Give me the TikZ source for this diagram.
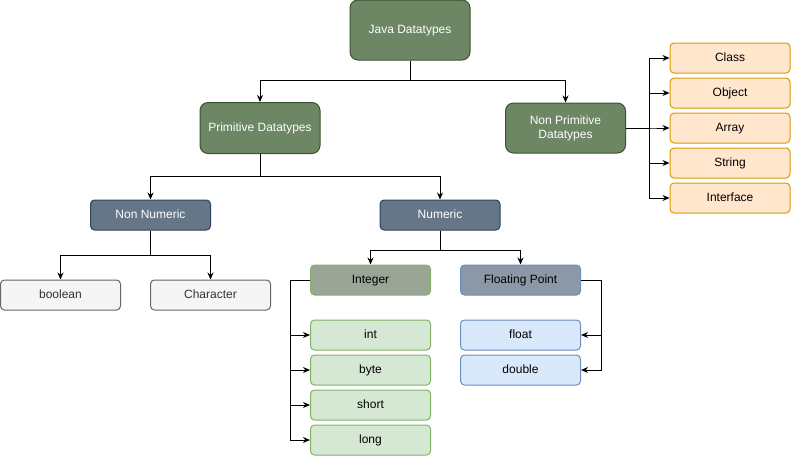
\documentclass[tikz,border=0pt]{standalone}
\usepackage{fontspec}
\setmainfont{Liberation Sans}
\usetikzlibrary{arrows.meta}

\definecolor{darkgreenfill}{HTML}{6D8764}
\definecolor{darkgreenline}{HTML}{3A5431}
\definecolor{slatefill}{HTML}{647687}
\definecolor{slateline}{HTML}{314354}
\definecolor{orangefill}{HTML}{FFE6CC}
\definecolor{orangeline}{HTML}{D79B00}
\definecolor{greyfill}{HTML}{F5F5F5}
\definecolor{greyline}{HTML}{666666}
\definecolor{greytext}{HTML}{333333}
\definecolor{lightgreenfill}{HTML}{D5E8D4}
\definecolor{lightgreenline}{HTML}{82B366}
\definecolor{intfill}{HTML}{9AA596}
\definecolor{lightbluefill}{HTML}{DAE8FC}
\definecolor{lightblueline}{HTML}{6C8EBF}
\definecolor{fpfill}{HTML}{8C98A8}

\tikzset{
  box/.style={draw, line width=1pt, rounded corners=4pt, align=center,
    minimum width=120pt, minimum height=30pt, inner sep=0pt,
    text height=9pt, text depth=3pt,
    font=\fontsize{12}{14}\selectfont},
  bigbox/.style={box, rounded corners=8pt},
  headbox/.style={bigbox, fill=darkgreenfill, draw=darkgreenline, text=white},
  slatebox/.style={box, fill=slatefill, draw=slateline, text=white},
  refbox/.style={box, fill=orangefill, draw=orangeline, text=black},
  plainbox/.style={box, fill=greyfill, draw=greyline, text=greytext},
  intbox/.style={box, fill=lightgreenfill, draw=lightgreenline, text=black},
  fltbox/.style={box, fill=lightbluefill, draw=lightblueline, text=black},
  link/.style={draw=black, line width=1pt, -{Stealth[length=7pt,width=6pt]}},
}

\begin{document}
\begin{tikzpicture}[x=1pt, y=-1pt]
  \useasboundingbox (0,0) rectangle (791,456);

  % top level
  \node[headbox, minimum height=60pt] (java) at (410,30) {Java Datatypes};
  \node[headbox, minimum height=51pt] (prim) at (260,128) {Primitive Datatypes};
  \node[headbox, minimum height=50pt, text height=, text depth=] (nonprim) at (565.5,128) {Non Primitive\\Datatypes};

  % non primitive kinds
  \node[refbox] (class) at (730,58) {Class};
  \node[refbox] (object) at (730,93) {Object};
  \node[refbox] (array) at (730,128) {Array};
  \node[refbox] (string) at (730,163) {String};
  \node[refbox] (iface) at (730,198) {Interface};

  % primitive kinds
  \node[slatebox] (nonnum) at (150.5,215) {Non Numeric};
  \node[slatebox] (numeric) at (440,215) {Numeric};

  \node[plainbox] (bool) at (60.5,295) {boolean};
  \node[plainbox] (char) at (210.5,295) {Character};

  \node[intbox, fill=intfill] (integer) at (370.5,280) {Integer};
  \node[intbox] (int) at (370.5,335) {int};
  \node[intbox] (byte) at (370.5,370) {byte};
  \node[intbox] (short) at (370.5,405) {short};
  \node[intbox] (long) at (370.5,440) {long};

  \node[fltbox, fill=fpfill] (fp) at (520.5,280) {Floating Point};
  \node[fltbox] (float) at (520.5,335) {float};
  \node[fltbox] (double) at (520.5,370) {double};

  % connectors
  \draw[link] (java.south) -- ++(0,20) -| (prim.north);
  \draw[link] (java.south) -- ++(0,20) -| (nonprim.north);

  \foreach \t in {class,object,array,string,iface}
    \draw[link] (nonprim.east) -- ++(23,0) |- (\t.west);

  \draw[link] (prim.south) -- ++(0,22) -| (nonnum.north);
  \draw[link] (prim.south) -- ++(0,22) -| (numeric.north);

  \draw[link] (nonnum.south) -- ++(0,25) -| (bool.north);
  \draw[link] (nonnum.south) -- ++(0,25) -| (char.north);

  \draw[link] (numeric.south) -- ++(0,20) -| (integer.north);
  \draw[link] (numeric.south) -- ++(0,20) -| (fp.north);

  \foreach \t in {int,byte,short,long}
    \draw[link] (integer.west) -- ++(-20,0) |- (\t.west);

  \foreach \t in {float,double}
    \draw[link] (fp.east) -- ++(20,0) |- (\t.east);
\end{tikzpicture}
\end{document}
